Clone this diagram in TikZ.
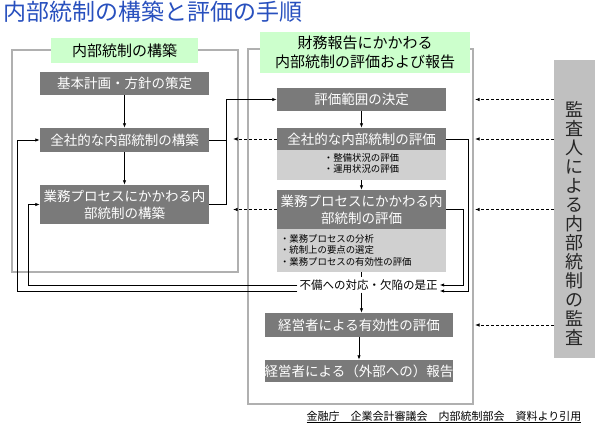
\documentclass[tikz,border=0pt]{standalone}
\usepackage{fontspec}
\setmainfont{Noto Sans CJK JP}
\usetikzlibrary{arrows.meta,calc}
\definecolor{boxgray}{RGB}{122,122,122}
\definecolor{subgray}{RGB}{208,208,208}
\definecolor{labgreen}{RGB}{204,255,204}
\definecolor{panelgray}{RGB}{176,176,176}
\definecolor{bargray}{RGB}{192,192,192}
\definecolor{titleblue}{RGB}{40,80,190}
\tikzset{
  dbox/.style={fill=boxgray, text=white, inner sep=0pt, align=center,
    font=\fontsize{13.5}{17}\selectfont},
  sbox/.style={fill=subgray, inner sep=0pt, font=\fontsize{9.4}{12}\selectfont},
  glabel/.style={fill=labgreen, inner sep=0pt, align=center,
    font=\fontsize{15}{19}\selectfont},
  panel/.style={draw=panelgray, line width=2.5pt},
  conn/.style={line width=0.8pt, black},
  arr/.style={conn, -{Latex[length=4.5pt,width=3.5pt]}},
  darr/.style={arr, dash pattern=on 3pt off 2pt}
}
\begin{document}
\begin{tikzpicture}[x=1pt,y=-1pt]
\useasboundingbox (0,0) rectangle (595,446);
% title
\node[anchor=west, text=titleblue, inner sep=0pt, font=\fontsize{23}{26}\selectfont] (title) at (3,12) {内部統制の構築と評価の手順};
% panels
\draw[panel] (12,50) rectangle (238,272);
\draw[panel] (248,49) rectangle (473,404);
\node[glabel, minimum width=147pt, minimum height=25pt] (lab1) at (124.5,50.5) {内部統制の構築};
\node[glabel, minimum width=210pt, minimum height=41pt] (lab2) at (365,52.5) {財務報告にかかわる\\内部統制の評価および報告};
% left boxes
\node[dbox, minimum width=169pt, minimum height=23pt] (b1) at (124.5,83.5) {基本計画・方針の策定};
\node[dbox, minimum width=169pt, minimum height=24pt] (b2) at (124.5,140) {全社的な内部統制の構築};
\node[dbox, minimum width=169pt, minimum height=39pt] (b3) at (124.5,204.5) {業務プロセスにかかわる内\\部統制の構築};
% right boxes
\node[dbox, minimum width=169pt, minimum height=23pt] (r1) at (361.5,99.5) {評価範囲の決定};
\node[dbox, minimum width=169pt, minimum height=22pt] (r2) at (361.5,139) {全社的な内部統制の評価};
\node[sbox, minimum width=169pt, minimum height=30pt] (r2s) at (361.5,165) {\begin{tabular}{@{}l@{}}・整備状況の評価\\[-1pt]・運用状況の評価\end{tabular}};
\node[dbox, minimum width=169pt, minimum height=39pt] (r3) at (361.5,209.5) {業務プロセスにかかわる内\\部統制の評価};
\node[sbox, minimum width=169pt, minimum height=43pt, text width=163pt, align=left] (r3s) at (361.5,250.5) {\baselineskip=11.5pt ・業務プロセスの分析\\・統制上の要点の選定\\・業務プロセスの有効性の評価};
\node[inner sep=2pt, font=\fontsize{11.5}{14}\selectfont] (fix) at (368.5,285) {不備への対応・欠陥の是正};
\node[dbox, minimum width=188pt, minimum height=24pt] (r4) at (359,325) {経営者による有効性の評価};
\node[dbox, minimum width=188pt, minimum height=22pt] (r5) at (359,371) {経営者による（外部への）報告};
% auditor bar
\node[fill=bargray, minimum width=41pt, minimum height=298pt, inner sep=0pt] (aud) at (574.5,209) {};
\node[align=center, inner sep=0pt, text=black!85, font=\fontsize{18}{19}\selectfont] (audt) at (574.5,223.5) {監\\査\\人\\に\\よ\\る\\内\\部\\統\\制\\の\\監\\査};
% source
\node[inner sep=0pt, font=\fontsize{11}{13}\selectfont] (src) at (444,417) {\underline{金融庁　企業会計審議会　内部統制部会　資料より引用}};
% helper coordinates
\coordinate (j1) at (226,0);
\coordinate (dl) at (233,0);
\coordinate (dr) at (475,0);
\coordinate (cr2) at (468,0);
\coordinate (cr3) at (463,0);
\coordinate (cl1) at (28,0);
\coordinate (cl2) at (17,0);
% left flow
\draw[arr] (b1) -- (b2);
\draw[arr] (b2) -- (b3);
\draw[conn] (b2.east) -- (b2.east -| j1);
\draw[arr] (b3.east) -- (b3.east -| j1) |- (r1.west);
% right flow
\draw[arr] (r1) -- (r2);
\draw[arr] (r2s) -- (r3);
\draw[conn] (r3s.south) -- (r3s.south |- fix.north);
\draw[arr] (fix.south -| r3s.south) -- (r4.north -| r3s.south);
\draw[arr] (r4) -- (r5);
% dashed feedback to left
\draw[darr] (r2.west) -- (r2.west -| dl);
\draw[darr] (r3.west) -- (r3.west -| dl);
% to fix
\draw[arr] (r2.east) -- (r2.east -| cr2) |- ([yshift=-6pt]fix.east);
\draw[arr] (r3.east) -- (r3.east -| cr3) |- ([yshift=0pt]fix.east);
% fix back to left boxes
\draw[arr] ([yshift=0pt]fix.west) -| (cl1 |- b3.west) -- (b3.west);
\draw[arr] ([yshift=-6pt]fix.west) -| (cl2 |- b2.west) -- (b2.west);
% auditor dashed arrows
\draw[darr] (aud.west |- r1) -- (dr |- r1);
\draw[darr] (aud.west |- r2) -- (dr |- r2);
\draw[darr] (aud.west |- r3) -- (dr |- r3);
\draw[darr] (aud.west |- r4) -- (dr |- r4);
\end{tikzpicture}
\end{document}
